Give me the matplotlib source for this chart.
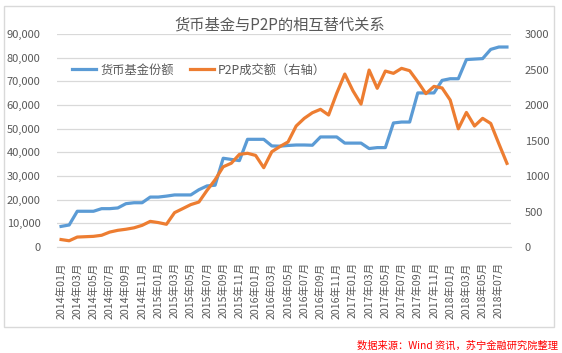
import matplotlib
matplotlib.use("Agg")
import matplotlib.pyplot as plt
from matplotlib.patches import Rectangle
from matplotlib.ticker import FuncFormatter

plt.rcParams['font.family'] = ['Noto Sans CJK SC', 'DejaVu Sans']

years = [2014, 2015, 2016, 2017, 2018]
months = [f"{y}年{m:02d}月" for y in years for m in range(1, 13)][:56]

money_fund = [8700, 9300, 15100, 15100, 15100, 16200, 16200, 16500, 18300, 18700,
              18700, 21100, 21100, 21500, 22000, 22000, 22000, 24200, 25800, 26100,
              37500, 37000, 36500, 45500, 45500, 45500, 42700, 42600, 42900, 43100,
              43100, 43000, 46500, 46500, 46500, 43900, 43900, 43900, 41600, 42000,
              42000, 52400, 52800, 52800, 65100, 65100, 65100, 70400, 71100, 71100,
              79200, 79400, 79600, 83500, 84500, 84500]
p2p = [105, 88, 140, 145, 150, 165, 210, 235, 250, 270,
       305, 361, 344, 320, 484, 540, 597, 633, 797, 947,
       1130, 1180, 1305, 1320, 1290, 1117, 1342, 1415, 1480, 1704,
       1812, 1891, 1939, 1859, 2164, 2436, 2201, 2013, 2492, 2235,
       2478, 2446, 2516, 2483, 2328, 2160, 2262, 2240, 2070, 1665,
       1895, 1704, 1812, 1740, 1455, 1178]

left_ticks = [0, 10000, 20000, 30000, 40000, 50000, 60000, 70000, 80000, 90000]
right_ticks = [0, 500, 1000, 1500, 2000, 2500, 3000]

blue = '#5B9BD5'
orange = '#ED7D31'
grid = '#D9D9D9'
txt = '#595959'

W, H = 562, 353
fig = plt.figure(figsize=(W / 100, H / 100), dpi=100)
ax = fig.add_axes([57 / W, 1 - 247 / H, (511 - 57) / W, (247 - 34) / H])
ax2 = ax.twinx()

x = list(range(len(months)))
l1, = ax.plot(x, money_fund, color=blue, lw=2.3, solid_joinstyle='round')
l2, = ax2.plot(x, p2p, color=orange, lw=2.3, solid_joinstyle='round')

ax.set_xlim(-0.5, len(months) - 0.5)
ax.set_ylim(0, 90000)
ax2.set_ylim(0, 3000)
ax.set_yticks(left_ticks)
ax2.set_yticks(right_ticks)
ax.yaxis.set_major_formatter(FuncFormatter(lambda v, p: f"{int(v):,}"))
ax2.yaxis.set_major_formatter(FuncFormatter(lambda v, p: f"{int(v)}"))
ax.grid(axis='y', color=grid, lw=0.9)
ax.set_axisbelow(True)

ax.set_xticks(x[::2])
ax.set_xticklabels(months[::2], rotation=90, fontsize=7.6, color=txt)
for a in (ax, ax2):
    for s in a.spines.values():
        s.set_visible(False)
    a.tick_params(length=0)
ax.spines['bottom'].set_visible(True)
ax.spines['bottom'].set_color(grid)
ax.tick_params(axis='y', labelsize=8, labelcolor=txt, pad=12)
ax.tick_params(axis='x', pad=11)
ax2.tick_params(axis='y', labelsize=8, labelcolor=txt, pad=10)

fig.text(280 / W, 1 - 25 / H, '货币基金与P2P的相互替代关系', ha='center', va='center',
         fontsize=11, color=txt)

fig.legend([l1, l2], ['货币基金份额', 'P2P成交额（右轴）'], loc='center left',
           bbox_to_anchor=(72 / W, 1 - 70 / H), ncol=2, frameon=False,
           fontsize=8.8, labelcolor=txt, handlelength=2.0, handletextpad=0.3,
           columnspacing=1.3, borderpad=0, borderaxespad=0)

fig.add_artist(Rectangle((4 / W, 1 - 327 / H), 550 / W, 321 / H, transform=fig.transFigure,
                         fill=False, edgecolor=grid, lw=1))

fig.text(558 / W, 1 - 346 / H, '数据来源：Wind 资讯，苏宁金融研究院整理', ha='right', va='center',
         fontsize=7.4, color='#FF0000', style='italic')

fig.savefig('out.png', dpi=100)
